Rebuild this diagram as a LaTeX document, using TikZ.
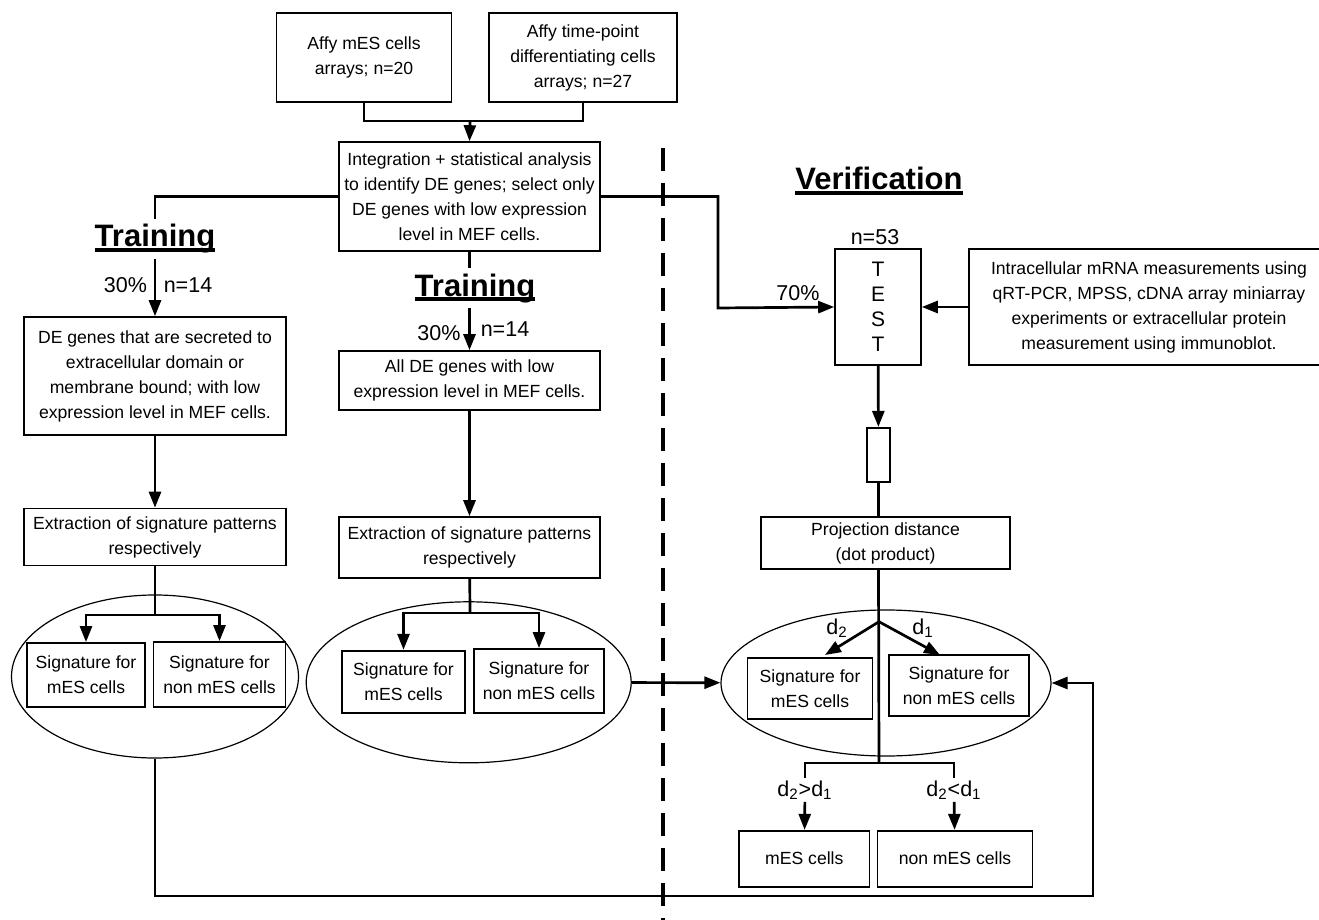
\documentclass[tikz,border=0pt]{standalone}
\usepackage{fontspec}
\setmainfont{Liberation Sans}
\usetikzlibrary{arrows.meta, shapes.geometric}
\newcommand{\headrule}[1]{\setbox0\hbox{#1}\rlap{\rule[-2.4pt]{\wd0}{1.8pt}}\box0}

\begin{document}
\begin{tikzpicture}[x=0.5pt, y=-0.5pt,
    font=\fontsize{8.8}{12.5}\selectfont,
    box/.style = {draw, line width=0.8pt, align=center, inner sep=1pt},
    sig/.style = {box, line width=0.9pt},
    oval/.style = {draw, ellipse, line width=0.6pt, inner sep=0pt},
    head/.style = {font=\fontsize{15.5}{18}\selectfont\bfseries, inner xsep=0pt, inner ysep=2.5pt},
    lbl/.style = {font=\fontsize{10.75}{12.5}\selectfont, inner sep=1pt},
    conn/.style = {line width=1.35pt},
    arr/.style = {conn, -{Triangle[length=8pt, width=6pt]}}]
\useasboundingbox (0,0) rectangle (1319,920);

% input arrays
\node[box, minimum width=87.5pt, minimum height=44.5pt] (mes) at (364,57.5) {Affy mES cells\\arrays; n=20};
\node[box, minimum width=94pt, minimum height=44.5pt] (diff) at (583,57.5) {Affy time-point\\differentiating cells\\arrays; n=27};
\node[box, minimum width=130.5pt, minimum height=54.5pt] (integ) at (469.5,196.5) {Integration + statistical analysis\\to identify DE genes; select only\\DE genes with low expression\\level in MEF cells.};
\coordinate (merge) at (470,121);

% training, secreted genes
\node[head, anchor=base] (trainL) at (155,247) {\headrule{Training}};
\node[lbl] (pL) at (125.5,285) {30\%};
\node[lbl] (nL) at (188,285) {n=14};
\node[box, minimum width=131pt, minimum height=59pt] (secr) at (155,376) {DE genes that are secreted to\\extracellular domain or\\membrane bound; with low\\expression level in MEF cells.};
\node[box, minimum width=131pt, minimum height=28.5pt] (extrL) at (155,537) {Extraction of signature patterns\\respectively};
\node[oval, minimum width=143.5pt, minimum height=81.5pt] (e1) at (155,676.5) {};
\node[sig, minimum width=59pt, minimum height=32pt] (s1) at (86,675) {Signature for\\mES cells};
\node[sig, minimum width=66pt, minimum height=32.5pt] (s2) at (219.5,674.5) {Signature for\\non mES cells};
\coordinate (brL) at (155,615);

% training, all DE genes
\node[head, anchor=base] (trainM) at (475,296) {\headrule{Training}};
\node[lbl] (pM) at (439,333) {30\%};
\node[lbl] (nM) at (505,329) {n=14};
\node[box, minimum width=130.5pt, minimum height=29.5pt] (allde) at (469.5,380.5) {All DE genes with low\\expression level in MEF cells.};
\node[box, minimum width=130.5pt, minimum height=30.5pt] (extrM) at (469.5,547.5) {Extraction of signature patterns\\respectively};
\node[oval, minimum width=162.5pt, minimum height=80.5pt] (e2) at (468.7,682.3) {};
\node[sig, minimum width=61.5pt, minimum height=31.3pt] (s3) at (403.5,682) {Signature for\\mES cells};
\node[sig, minimum width=65pt, minimum height=32pt] (s4) at (539,681) {Signature for\\non mES cells};
\coordinate (brM) at (470,613);

% verification
\node[head, anchor=base] (verif) at (879,190) {\headrule{Verification}};
\node[lbl] (n53) at (875,237) {n=53};
\node[lbl] (p70) at (798,293) {70\%};
\node[box, minimum width=43pt, minimum height=58pt, font=\fontsize{10.5}{12.5}\selectfont] (test) at (878,307) {T\\E\\S\\T};
\node[box, minimum width=180pt, minimum height=58pt] (intra) at (1149,307) {Intracellular mRNA measurements using\\qRT-PCR, MPSS, cDNA array miniarray\\experiments or extracellular protein\\measurement using immunoblot.};
\node[box, minimum width=11.5pt, minimum height=27pt] (small) at (878.5,454.7) {};
\node[box, minimum width=124.5pt, minimum height=26pt] (proj) at (885.5,543) {Projection distance\\(dot product)};
\node[oval, minimum width=165pt, minimum height=73pt] (e3) at (886,683) {};
\node[sig, minimum width=62.5pt, minimum height=30.5pt] (s5) at (810,688.5) {Signature for\\mES cells};
\node[sig, minimum width=70pt, minimum height=30.5pt] (s6) at (959,685.4) {Signature for\\non mES cells};
\node[lbl] (d2) at (837,628) {d\textsubscript{2}};
\node[lbl] (d1) at (923,628) {d\textsubscript{1}};
\node[lbl] (gt) at (805,790) {d\textsubscript{2}>d\textsubscript{1}};
\node[lbl] (lt) at (954,790) {d\textsubscript{2}<d\textsubscript{1}};
\node[box, minimum width=65.3pt, minimum height=28pt] (r1) at (804.3,858.7) {mES cells};
\node[box, minimum width=77.5pt, minimum height=28pt] (r2) at (955,858.7) {non mES cells};
\coordinate (turn) at (718,308);
\coordinate (split) at (879,621.7);
\coordinate (tipL) at (825,655);
\coordinate (tipR) at (940,655);
\coordinate (bar) at (879,763);
\coordinate (fb) at (1093,896);

% connectors
\draw[conn] (mes.south) |- (merge) -| (diff.south);
\draw[arr] (merge) -- (integ.north);
\draw[conn] (integ.west) -| (trainL.north);
\draw[arr] (trainL.south) -- (secr.north);
\draw[arr] (secr) -- (extrL);
\draw[conn] (extrL) -- (brL);
\draw[arr] (brL) -| (s1.north);
\draw[arr] (brL) -| (s2.north);
\draw[arr] (e1.south) |- (fb) |- (e3.east);

\draw[conn] (integ.south) -- (integ.south |- trainM.north);
\draw[arr] (integ.south |- trainM.south) -- (allde.north);
\draw[arr] (allde) -- (extrM);
\draw[conn] (extrM) -- (brM);
\draw[arr] (brM) -| (s3.north);
\draw[arr] (brM) -| (s4.north);
\draw[arr] (e2) -- (e3);

\draw[arr] (integ.east) -| (turn) -- (test.west);
\draw[arr] (intra) -- (test);
\draw[arr] (test) -- (small);
\draw[conn] (small) -- (proj.north -| small);
\draw[conn] (proj.south -| small) -- (bar);
\draw[arr] (split) -- (tipL);
\draw[arr] (split) -- (tipR);
\draw[conn] (gt.north) |- (bar) -| (lt.north);
\draw[arr] (gt) -- (r1);
\draw[arr] (lt) -- (r2);

% training / verification divide
\draw[line width=2pt, dash pattern=on 11.5pt off 6pt] (663,148) -- (663,920);
\end{tikzpicture}
\end{document}
